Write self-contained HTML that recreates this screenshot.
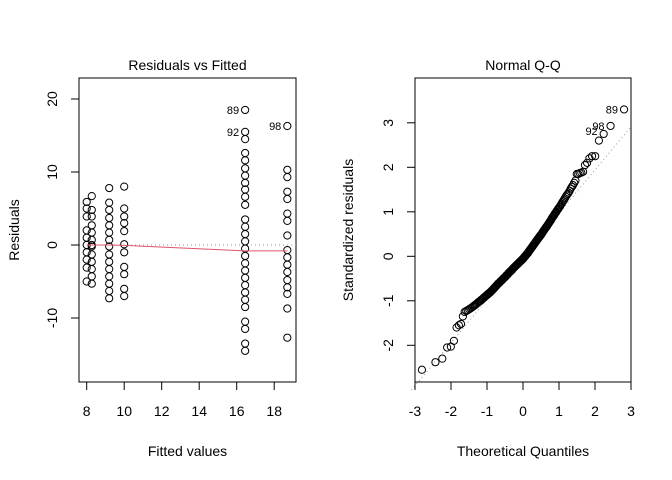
<!DOCTYPE html>
<html><head><meta charset="utf-8">
<style>
html,body{margin:0;padding:0;background:#fff;}
svg{display:block;font-family:"Liberation Sans",Arial,sans-serif;}
</style></head>
<body>
<svg id="chart" width="672" height="480" viewBox="0 0 672 480" xmlns="http://www.w3.org/2000/svg"></svg>
<script>
// ---- data ----
const fittedLevels = [8.0, 8.27, 9.2, 10.0, 16.45, 18.7];
const residA = [5.9,5.0,3.9,2.0,1.0,0,-1.0,-2.0,-3.1,-5.0];
const residB = [6.7,4.8,3.9,2.7,1.7,0.7,0,-0.2,-1.3,-2.3,-3.3,-4.3,-5.3];
const residC = [7.8,5.8,4.8,3.7,2.7,1.7,0.7,-0.2,-1.3,-2.3,-3.3,-4.3,-5.3,-6.3,-7.3];
const residD = [8.0,5.0,3.9,3.0,1.9,0.1,-1.0,-3.0,-4.0,-6.0,-7.0];
const residE = [18.5,15.5,14.5,12.6,11.6,10.5,9.5,8.5,7.6,6.6,5.5,3.5,2.5,1.5,0.5,-0.5,-1.5,-2.5,-3.5,-4.5,-5.5,-6.5,-7.5,-8.5,-10.5,-11.5,-13.5,-14.5];
const residF = [16.3,10.3,9.3,7.3,6.3,4.3,3.3,1.3,-0.7,-1.7,-2.7,-3.7,-4.8,-5.8,-6.7,-8.7,-12.7];
const lowessX = [8.0, 9.2, 10.0, 16.45, 18.7];
const lowessY = [0.0, 0.0, -0.05, -0.8, -0.8];
const labeledPoints = [{id:"89",x:16.45,y:18.5},{id:"92",x:16.45,y:15.5},{id:"98",x:18.7,y:16.3}];
const residTicks = [-10,0,10,20];
const fittedTicks = [8,10,12,14,16,18];
const qqXTicks = [-3,-2,-1,0,1,2,3];
const qqYTicks = [-2,-1,0,1,2,3];
const stdResid = [
-2.55,-2.38,-2.3,-2.05,-2.03,-1.9,-1.6,-1.55,-1.52,-1.35,
-1.25,-1.23,-1.21,-1.19,-1.17,-1.15,-1.13,-1.11,-1.09,-1.07,
-1.05,-1.03,-1.02,-1.0,-0.98,-0.97,-0.95,-0.93,-0.92,-0.90,
-0.89,-0.87,-0.86,-0.84,-0.83,-0.82,-0.80,-0.79,-0.77,-0.76,
-0.74,-0.73,-0.71,-0.70,-0.68,-0.67,-0.65,-0.64,-0.62,-0.61,
-0.60,-0.59,-0.57,-0.56,-0.55,-0.54,-0.53,-0.51,-0.50,-0.49,
-0.48,-0.47,-0.46,-0.44,-0.43,-0.42,-0.41,-0.40,-0.38,-0.37,
-0.36,-0.35,-0.34,-0.33,-0.32,-0.31,-0.30,-0.28,-0.27,-0.26,
-0.25,-0.24,-0.23,-0.22,-0.21,-0.20,-0.19,-0.18,-0.17,-0.16,
-0.15,-0.14,-0.13,-0.12,-0.11,-0.10,-0.09,-0.08,-0.07,-0.06,
-0.05,-0.04,-0.02,-0.01,0.0,0.01,0.02,0.04,0.05,0.06,
0.07,0.09,0.10,0.12,0.13,0.15,0.16,0.17,0.19,0.20,
0.22,0.23,0.25,0.26,0.28,0.29,0.31,0.32,0.34,0.35,
0.37,0.38,0.40,0.41,0.43,0.44,0.46,0.47,0.49,0.50,
0.52,0.54,0.56,0.58,0.59,0.61,0.63,0.65,0.66,0.68,
0.70,0.72,0.74,0.76,0.78,0.80,0.82,0.85,0.87,0.89,
0.91,0.93,0.96,0.98,1.00,1.03,1.05,1.07,1.10,1.12,
1.15,1.18,1.21,1.24,1.27,1.30,1.34,1.37,1.40,1.43,
1.47,1.52,1.56,1.6,1.65,1.7,1.85,1.85,1.87,1.88,
1.9,2.05,2.1,2.2,2.25,2.25,2.6,2.75,2.93,3.3];
const qqLabels = ["92","98","89"];
const qqLineSlope = 0.97;
const qqLineIntercept = 0.0;

const NS="http://www.w3.org/2000/svg";
const svg=document.getElementById('chart');
function mk(tag,attrs,parent){const e=document.createElementNS(NS,tag);for(const k in attrs)e.setAttribute(k,attrs[k]);(parent||svg).appendChild(e);return e;}

const L={x0:79,x1:296,y0:78,y1:382};
const lx=v=>86.7+(v-8)*18.75;
const ly=v=>245-v*7.3;
const R={x0:415,x1:631,y0:78,y1:382};
const rx=v=>523+v*36;
const ry=v=>256.3-v*44.5;

function panel(P,name){
  const r=mk('rect',{x:P.x0,y:P.y0,width:P.x1-P.x0,height:P.y1-P.y0,fill:'none',stroke:'#000','stroke-width':1});
  
  
}
function xAxis(ticks,f,P,name){
  const g=mk('g',{});
  
  
  mk('line',{x1:f(ticks[0]),x2:f(ticks[ticks.length-1]),y1:P.y1,y2:P.y1,stroke:'#000'},g);
  ticks.forEach(t=>{
    mk('line',{x1:f(t),x2:f(t),y1:P.y1,y2:P.y1+8,stroke:'#000'},g);
    const tx=mk('text',{x:f(t),y:P.y1+34,'font-size':14,'text-anchor':'middle'},g);
    tx.textContent=String(t);
  });
}
function yAxis(ticks,f,P,name){
  const g=mk('g',{});
  
  
  mk('line',{x1:P.x0,x2:P.x0,y1:f(ticks[0]),y2:f(ticks[ticks.length-1]),stroke:'#000'},g);
  ticks.forEach(t=>{
    mk('line',{x1:P.x0,x2:P.x0-8,y1:f(t),y2:f(t),stroke:'#000'},g);
    const x=P.x0-22;
    const tx=mk('text',{x:x,y:f(t),'font-size':14,'text-anchor':'middle',transform:`rotate(-90 ${x} ${f(t)})`},g);
    tx.textContent=String(t);
  });
}
function title(txt,x,name){
  const t=mk('text',{x:x,y:70,'font-size':14,'text-anchor':'middle'});
  t.textContent=txt;
  
  
}
function axTitle(txt,x,y,rot,name){
  const t=mk('text',{x:x,y:y,'font-size':14,'text-anchor':'middle',transform:rot?`rotate(-90 ${x} ${y})`:''});
  t.textContent=txt;
  
  
}
function pt(x,y,g){
  const c=mk('circle',{cx:x,cy:y,r:3.6,fill:'none',stroke:'#000','stroke-width':1},g);
  
  
}

// ---- left: Residuals vs Fitted ----
panel(L,'residuals-panel');
title('Residuals vs Fitted',(L.x0+L.x1)/2,'residuals-vs-fitted-title');
const zl=mk('line',{x1:L.x0,x2:L.x1,y1:ly(0),y2:ly(0),stroke:'#999','stroke-dasharray':'1,3'});


const cols=[residA,residB,residC,residD,residE,residF];
const gl=mk('g',{});


cols.forEach((arr,i)=>arr.forEach(v=>pt(lx(fittedLevels[i]),ly(v),gl)));
const lw=mk('polyline',{points:lowessX.map((v,i)=>lx(v)+','+ly(lowessY[i])).join(' '),fill:'none',stroke:'#DF536B','stroke-width':1});


labeledPoints.forEach(p=>{
  const t=mk('text',{x:lx(p.x)-6,y:ly(p.y)+4,'font-size':11,'text-anchor':'end'});
  t.textContent=p.id;
  
  
});
xAxis(fittedTicks,lx,L,'fitted-x-axis');
yAxis(residTicks,ly,L,'residuals-y-axis');
axTitle('Fitted values',(L.x0+L.x1)/2,456,false,'x-axis-title-fitted');
axTitle('Residuals',19,(L.y0+L.y1)/2,true,'y-axis-title-residuals');

// ---- right: Normal Q-Q ----
panel(R,'qq-panel');
title('Normal Q-Q',(R.x0+R.x1)/2,'normal-qq-title');
const all=stdResid.slice().sort((a,b)=>a-b);
const n=all.length;
function qnorm(p){
  const a=[-39.6968302866538,220.946098424521,-275.928510446969,138.357751867269,-30.6647980661472,2.50662827745924];
  const b=[-54.4760987982241,161.585836858041,-155.698979859887,66.8013118877197,-13.2806815528857];
  const c=[-0.00778489400243029,-0.322396458041136,-2.40075827716184,-2.54973253934373,4.37466414146497,2.93816398269878];
  const d=[0.00778469570904146,0.32246712907004,2.445134137143,3.75440866190742];
  let q,r;
  if(p<0.02425){q=Math.sqrt(-2*Math.log(p));return (((((c[0]*q+c[1])*q+c[2])*q+c[3])*q+c[4])*q+c[5])/((((d[0]*q+d[1])*q+d[2])*q+d[3])*q+1);}
  if(p>1-0.02425){q=Math.sqrt(-2*Math.log(1-p));return -(((((c[0]*q+c[1])*q+c[2])*q+c[3])*q+c[4])*q+c[5])/((((d[0]*q+d[1])*q+d[2])*q+d[3])*q+1);}
  q=p-0.5;r=q*q;return (((((a[0]*r+a[1])*r+a[2])*r+a[3])*r+a[4])*r+a[5])*q/(((((b[0]*r+b[1])*r+b[2])*r+b[3])*r+b[4])*r+1);
}
const qlo=-3.1,qhi=3.0;
const ql=mk('line',{x1:rx(qlo),y1:ry(qqLineIntercept+qqLineSlope*qlo),x2:rx(qhi),y2:ry(qqLineIntercept+qqLineSlope*qhi),stroke:'#999','stroke-dasharray':'1,3'});


const gq=mk('g',{});


all.forEach((v,i)=>{const p=(i+1-0.5)/n;pt(rx(qnorm(p)),ry(v),gq);});
for(let k=0;k<qqLabels.length;k++){
  const i=n-qqLabels.length+k;const p=(i+1-0.5)/n;
  const t=mk('text',{x:rx(qnorm(p))-6,y:ry(all[i])+(k===0?1:4),'font-size':11,'text-anchor':'end'});
  t.textContent=qqLabels[k];
  
  
}
xAxis(qqXTicks,rx,R,'qq-x-axis');
yAxis(qqYTicks,ry,R,'qq-y-axis');
axTitle('Theoretical Quantiles',(R.x0+R.x1)/2,456,false,'x-axis-title-theoretical');
axTitle('Standardized residuals',353,(R.y0+R.y1)/2,true,'y-axis-title-standardized');
</script>
</body></html>
